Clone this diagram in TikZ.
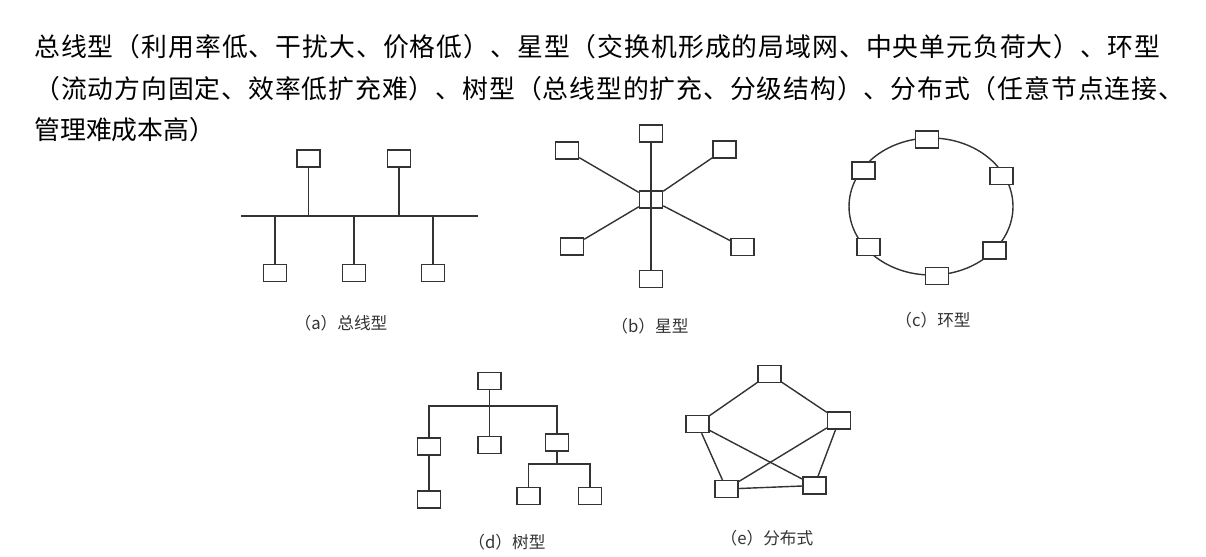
\documentclass[tikz,border=0pt]{standalone}
\usepackage{fontspec}
\usepackage{xcolor}
\usepackage{tikz}
\newfontfamily\cjk{Noto Sans CJK SC}
\definecolor{ink}{HTML}{333333}
% spread the glyphs of a line evenly over a fixed width
\def\spreadline#1#2{\makebox[#1][s]{\spreadaux#2\relax\unskip}}
\def\spreadaux#1{\ifx#1\relax\else#1\hskip0pt plus 1fil\expandafter\spreadaux\fi}

\begin{document}
\begin{tikzpicture}[x=0.02cm,y=-0.02cm,
  box/.style={draw=ink,fill=white,line width=0.8pt,minimum width=0.46cm,minimum height=0.34cm,inner sep=0pt},
  wire/.style={draw=ink,line width=0.8pt},
  figcap/.style={font=\cjk\fontsize{9.5}{11}\selectfont,text=ink},
  txt/.style={anchor=west,inner sep=0pt,font=\cjk\fontsize{14.7}{17}\selectfont}]
\useasboundingbox (0,0) rectangle (1206,556);
% lead text
\node[txt] (l1) at (34,47) {\spreadline{22.52cm}{总线型（利用率低、干扰大、价格低）、星型（交换机形成的局域网、中央单元负荷大）、环型}};
\node[txt] (l2) at (34,89) {\spreadline{23.0cm}{（流动方向固定、效率低扩充难）、树型（总线型的扩充、分级结构）、分布式（任意节点连接、}};
\node[txt] (l3) at (34,130) {管理难成本高）};
% (a) bus
\coordinate (busL) at (241,216); \coordinate (busR) at (478,216);
\draw[wire] (busL) -- (busR);
\foreach \n/\x/\y in {a1/308.5/158.5,a2/399/158.5,a3/275/273,a4/354/273,a5/433/273}{\node[box] (\n) at (\x,\y) {};}
\foreach \n in {a1,a2,a3,a4,a5}{\draw[wire] (\n) -- (\n|-busL);}
\node[figcap] (capA) at (341,323) {（a）总线型};
% (b) star
\node[box] (bc) at (651,199.5) {};
\foreach \n/\x/\y in {b1/651/133.5,b2/567/150.5,b3/724.5/149.5,b4/572/246.5,b5/742.5/247,b6/651/279}{\node[box] (\n) at (\x,\y) {};}
\draw[wire] (b1) -- (b6);
\foreach \n in {b2,b3,b4,b5}{\draw[wire] (bc) -- (\n);}
\node[figcap] (capB) at (650,326) {（b）星型};
% (c) ring
\coordinate (ring) at (931,206.5);
\draw[wire] (ring) ellipse [x radius=1.64cm,y radius=1.37cm];
\foreach \n/\x/\y in {c1/927/139.5,c2/863.5/170.5,c3/1001.5/176,c4/868.5/247,c5/994.5/250.5,c6/937/276}{\node[box] (\n) at (\x,\y) {};}
\node[figcap] (capC) at (933,320) {（c）环型};
% (d) tree
\foreach \n/\x/\y in {d0/489.5/381,d1/429/446.5,d2/489.5/445,d3/557/442.5,d4/429/499.5,d5/528.5/496,d6/590/496}{\node[box] (\n) at (\x,\y) {};}
\coordinate (dbar) at (489.5,406); \coordinate (dbar2) at (557,464);
\draw[wire] (d0) -- (dbar) -- (d2);
\draw[wire] (d1) |- (dbar) -| (d3);
\draw[wire] (d1) -- (d4);
\draw[wire] (d3) -- (dbar2);
\draw[wire] (d5) |- (dbar2) -| (d6);
\node[figcap] (capD) at (507,542) {（d）树型};
% (e) mesh
\foreach \n/\x/\y in {e1/769.5/374,e2/697.5/424,e3/839/420.5,e4/726.5/489,e5/814.5/485.5}{\node[box] (\n) at (\x,\y) {};}
\foreach \a/\b in {e1/e2,e1/e3,e2/e4,e2/e5,e3/e4,e3/e5,e4/e5}{\draw[wire] (\a) -- (\b);}
\node[figcap] (capE) at (767,538) {（e）分布式};
\end{tikzpicture}
\end{document}
